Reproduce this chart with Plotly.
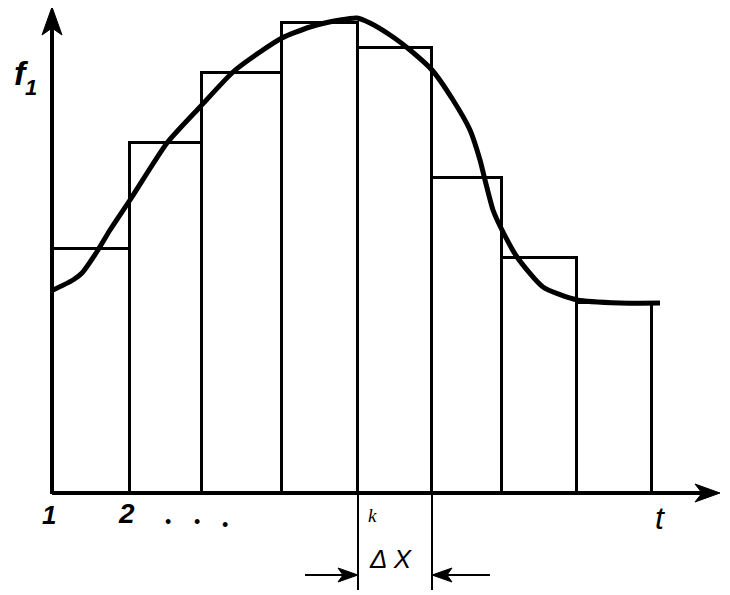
import plotly.graph_objects as go

# Step edges (t) and step heights (f1), 1 unit ~ 1 px
bar_edges = [0, 78, 150, 230, 306, 380, 450, 525, 600]
bar_heights = [244, 350, 420, 470, 445, 315, 235, 190]

# Smooth curve f1(t)
curve_t = [1, 21, 30, 46, 58, 78, 115, 148, 181, 208, 230, 258, 288, 305, 318,
           341, 358, 380, 401, 418, 428, 433, 441, 450, 465, 491, 525, 568, 608]
curve_f = [203, 213, 220, 243, 263, 293, 350, 386, 421, 441, 455, 466, 473, 475, 470,
           456, 443, 423, 393, 363, 333, 313, 283, 263, 236, 206, 193, 190, 190]

tick_labels = ["1", "2"]
k_index = 4  # k-th interval starts at bar_edges[4]

centers = [(a + b) / 2 for a, b in zip(bar_edges[:-1], bar_edges[1:])]
widths = [b - a for a, b in zip(bar_edges[:-1], bar_edges[1:])]

fig = go.Figure()
fig.add_trace(go.Bar(x=centers, y=bar_heights, width=widths, base=0,
                     marker=dict(color="white", line=dict(color="black", width=3)),
                     hoverinfo="skip"))
fig.add_trace(go.Scatter(x=curve_t, y=curve_f, mode="lines",
                         line=dict(color="black", width=5, shape="spline", smoothing=0.6),
                         hoverinfo="skip"))

shapes = []
# axes
shapes.append(dict(type="line", x0=0, y0=0, x1=0, y1=465, line=dict(color="black", width=4)))
shapes.append(dict(type="line", x0=0, y0=0, x1=650, y1=0, line=dict(color="black", width=4)))
# axis arrowheads
shapes.append(dict(type="path", path="M 0 486 L -10 458 L 0 465 L 10 458 Z",
                   fillcolor="black", line=dict(color="black", width=1)))
shapes.append(dict(type="path", path="M 668 0 L 643 9 L 650 0 L 643 -9 Z",
                   fillcolor="black", line=dict(color="black", width=1)))
# dimension lines for delta x
xa, xb = bar_edges[k_index], bar_edges[k_index + 1]
shapes.append(dict(type="line", x0=xa, y0=0, x1=xa, y1=-97, line=dict(color="black", width=2)))
shapes.append(dict(type="line", x0=xb, y0=0, x1=xb, y1=-97, line=dict(color="black", width=2)))
shapes.append(dict(type="line", x0=xa - 53, y0=-82, x1=xa, y1=-82, line=dict(color="black", width=2)))
shapes.append(dict(type="line", x0=xb, y0=-82, x1=xb + 58, y1=-82, line=dict(color="black", width=2)))
shapes.append(dict(type="path", path=f"M {xa} -82 L {xa-20} -75 L {xa-15} -82 L {xa-20} -89 Z",
                   fillcolor="black", line=dict(color="black", width=1)))
shapes.append(dict(type="path", path=f"M {xb} -82 L {xb+20} -75 L {xb+15} -82 L {xb+20} -89 Z",
                   fillcolor="black", line=dict(color="black", width=1)))

font_main = "Liberation Sans"
ann = []
ann.append(dict(x=-31, y=420, text="<i><b>f</b></i>", font=dict(size=34, family=font_main, color="black"),
                showarrow=False, xanchor="center", yanchor="middle"))
ann.append(dict(x=-21, y=406, text="<i><b>1</b></i>", font=dict(size=22, family=font_main, color="black"),
                showarrow=False, xanchor="center", yanchor="middle"))
ann.append(dict(x=bar_edges[0] - 3, y=-22, text="<i><b>" + tick_labels[0] + "</b></i>",
                font=dict(size=26, family=font_main, color="black"),
                showarrow=False, xanchor="center", yanchor="middle"))
ann.append(dict(x=bar_edges[1] - 4, y=-20, text="<i><b>" + tick_labels[1] + "</b></i>",
                font=dict(size=28, family=font_main, color="black"),
                showarrow=False, xanchor="center", yanchor="middle"))
for dx, dy in [(116, -29), (145, -29), (173, -32)]:
    ann.append(dict(x=dx, y=dy, text="•", font=dict(size=18, family=font_main, color="black"),
                    showarrow=False, xanchor="center", yanchor="middle"))
ann.append(dict(x=xa + 14, y=-22, text="<i>k</i>", font=dict(size=19, family="Liberation Serif", color="black"),
                showarrow=False, xanchor="center", yanchor="middle"))
ann.append(dict(x=xa + 33, y=-66, text="<i>Δ X</i>", font=dict(size=26, family=font_main, color="black"),
                showarrow=False, xanchor="center", yanchor="middle"))
ann.append(dict(x=608, y=-25, text="<i>t</i>", font=dict(size=32, family=font_main, color="black"),
                showarrow=False, xanchor="center", yanchor="middle"))

fig.update_layout(
    width=730, height=595,
    margin=dict(l=0, r=0, t=0, b=0),
    paper_bgcolor="white", plot_bgcolor="white",
    showlegend=False,
    # ranges offset by the page's 8px body margin
    xaxis=dict(range=[-44, 686], visible=False, fixedrange=True),
    yaxis=dict(range=[-110, 485], visible=False, fixedrange=True),
    shapes=shapes, annotations=ann,
    bargap=0,
)
fig.write_html("out.html")
